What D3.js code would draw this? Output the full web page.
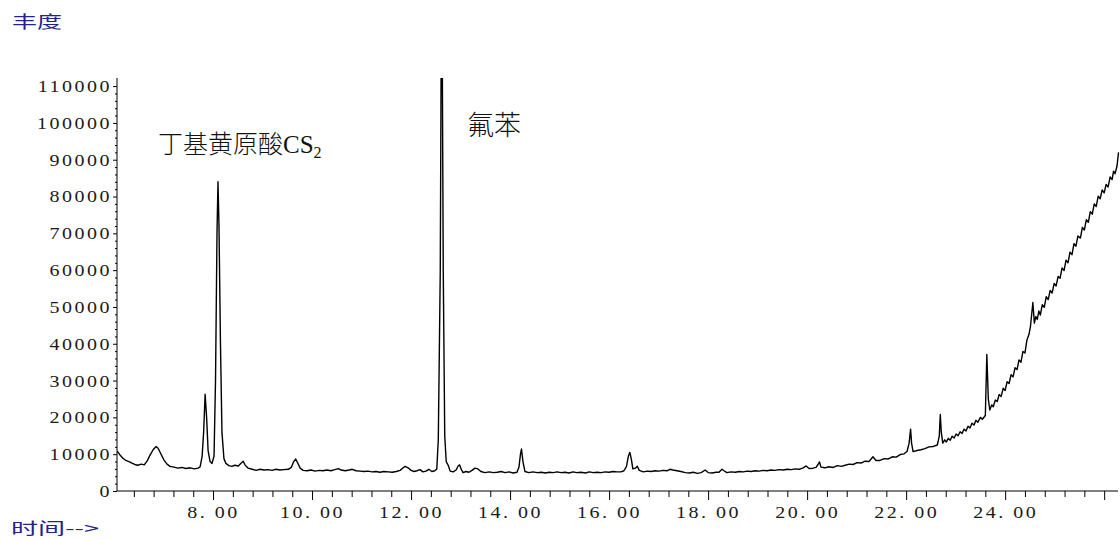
<!DOCTYPE html>
<html>
<head>
<meta charset="utf-8">
<script src="https://cdn.jsdelivr.net/npm/d3@7"></script>
<style>
  html, body { margin: 0; padding: 0; background: #fff; }
  svg { display: block; }
</style>
</head>
<body>
<svg id="chart" width="1120" height="540"></svg>
<script>
// retention time (min) and abundance
var time = [6.06, 6.12, 6.18, 6.24, 6.30, 6.36, 6.42, 6.48, 6.55, 6.61, 6.67, 6.73, 6.79, 6.85, 6.89, 6.95,
  7.01, 7.07, 7.13, 7.21, 7.29, 7.37, 7.45, 7.54, 7.62, 7.70, 7.74, 7.78, 7.81, 7.84, 7.87, 7.90, 7.94, 7.98,
  8.02, 8.05, 8.08, 8.10, 8.12, 8.15, 8.18, 8.22, 8.26, 8.32, 8.38, 8.44, 8.51, 8.57, 8.61, 8.65, 8.71, 8.79,
  8.87, 8.95, 9.03, 9.11, 9.19, 9.27, 9.35, 9.43, 9.52, 9.58, 9.63, 9.67, 9.71, 9.76, 9.82, 9.90, 9.98,
  10.06, 10.14, 10.22, 10.30, 10.38, 10.46, 10.53, 10.59, 10.67, 10.75, 10.81, 10.89, 10.97, 11.05, 11.13,
  11.21, 11.29, 11.37, 11.45, 11.54, 11.62, 11.70, 11.78, 11.84, 11.88, 11.94, 12.00, 12.06, 12.12, 12.18,
  12.24, 12.30, 12.36, 12.42, 12.48, 12.52, 12.55, 12.59, 12.61, 12.63, 12.65, 12.68, 12.71, 12.75, 12.79,
  12.85, 12.91, 12.95, 12.98, 13.01, 13.05, 13.11, 13.17, 13.23, 13.29, 13.35, 13.41, 13.49, 13.58, 13.66,
  13.74, 13.82, 13.90, 13.98, 14.06, 14.14, 14.18, 14.21, 14.23, 14.26, 14.30, 14.38, 14.46, 14.55, 14.63,
  14.71, 14.79, 14.87, 14.95, 15.03, 15.11, 15.19, 15.27, 15.35, 15.43, 15.52, 15.60, 15.68, 15.76, 15.84,
  15.92, 16.00, 16.08, 16.16, 16.24, 16.30, 16.35, 16.39, 16.42, 16.45, 16.48, 16.53, 16.57, 16.61, 16.69,
  16.77, 16.85, 16.93, 17.01, 17.09, 17.17, 17.23, 17.29, 17.37, 17.45, 17.54, 17.62, 17.70, 17.78, 17.86,
  17.94, 18.00, 18.08, 18.16, 18.22, 18.28, 18.32, 18.38, 18.46, 18.55, 18.63, 18.71, 18.79, 18.87, 18.95,
  19.03, 19.11, 19.19, 19.27, 19.35, 19.43, 19.52, 19.60, 19.68, 19.76, 19.84, 19.92, 19.98, 20.04, 20.12,
  20.18, 20.22, 20.25, 20.28, 20.36, 20.44, 20.53, 20.61, 20.69, 20.77, 20.85, 20.93, 21.01, 21.09, 21.17,
  21.25, 21.33, 21.39, 21.47, 21.56, 21.64, 21.72, 21.80, 21.88, 21.96, 22.02, 22.06, 22.09, 22.11, 22.14,
  22.22, 22.30, 22.38, 22.46, 22.55, 22.63, 22.67, 22.69, 22.71,
  22.74, 22.78, 22.81, 22.85, 22.89, 22.93, 22.97, 23.01, 23.05, 23.09,
  23.13, 23.17, 23.21, 23.25, 23.29, 23.33, 23.37, 23.41, 23.45, 23.50,
  23.54, 23.60, 23.63, 23.66, 23.69, 23.73, 23.76, 23.80, 23.84, 23.88,
  23.92, 23.96, 24.00, 24.04, 24.08, 24.12, 24.16, 24.20, 24.24, 24.28,
  24.32, 24.36, 24.40, 24.44, 24.48, 24.51, 24.56, 24.59, 24.62, 24.65,
  24.68, 24.71, 24.75, 24.79, 24.83, 24.87, 24.91, 24.95, 24.99, 25.03,
  25.07, 25.11, 25.15, 25.19, 25.23, 25.27, 25.31, 25.35, 25.39, 25.43,
  25.47, 25.52, 25.56, 25.60, 25.64, 25.68, 25.72, 25.76, 25.80, 25.84,
  25.88, 25.92, 25.96, 26.00, 26.04, 26.08, 26.12, 26.16, 26.19, 26.22,
  26.26, 26.29];

var abundance = [10900, 9800, 8900, 8300, 8000, 7600, 7200, 7000, 7300, 7100, 8200, 9800, 11200, 12100, 11600, 10000,
  8400, 7300, 6700, 6500, 6200, 6400, 6100, 6300, 6000, 6200, 6600, 9500, 16000, 26300, 20000, 11000, 8000, 7500,
  9500, 30000, 70000, 84000, 72000, 40000, 16000, 8800, 7500, 6900, 6700, 7000, 6800, 7600, 8100, 7000, 6200, 5900,
  5600, 5900, 5700, 5800, 5600, 5900, 5700, 5800, 5900, 6400, 8000, 8700, 7600, 6200, 5600, 5500, 5700,
  5400, 5600, 5500, 5700, 5500, 5800, 6100, 5700, 5500, 5700, 5900, 5500, 5400, 5300, 5400,
  5200, 5300, 5100, 5300, 5200, 5100, 5300, 5600, 6300, 6700, 6300, 5600, 5300, 5500, 5800,
  5200, 5400, 5900, 5300, 5500, 6000, 14000, 60000, 125000, 120000, 60000, 15000, 8000, 7000, 5400,
  5200, 5700, 6800, 7100, 6000, 5000, 5300, 5100, 5600, 6200, 6000, 5300, 5000, 5200, 5000,
  5100, 5300, 5000, 5200, 4900, 5100, 6500, 10000, 11400, 8000, 5300, 5000, 5200, 5000, 5100,
  4900, 5100, 5000, 5200, 5000, 5100, 4900, 5200, 5000, 5100, 4900, 5200, 5000, 5100, 5000,
  5200, 5100, 5300, 5200, 5200, 5500, 6600, 9500, 10500, 8600, 6000, 6200, 6700, 5600, 5200,
  5400, 5300, 5500, 5400, 5600, 5500, 5900, 5700, 5500, 5300, 5000, 4900, 5100, 4800, 5000,
  5700, 5000, 4900, 5100, 5100, 5900, 5500, 5000, 5200, 5100, 5300, 5200, 5400, 5300, 5500,
  5400, 5600, 5500, 5700, 5600, 5800, 5700, 5900, 5800, 6000, 5900, 6300, 6800, 6100, 6200,
  6400, 7200, 7900, 6500, 6300, 6600, 6400, 6900, 6700, 7000, 7300, 7200, 7700, 7600, 8100,
  8000, 9300, 8300, 8300, 8800, 8700, 9300, 9200, 9900, 10100, 10800, 13000, 16800, 13000, 10700,
  11000, 11200, 11500, 12000, 12100, 12500, 15000, 20800, 16000,
  13000, 13900, 13300, 14300, 13800, 14900, 14400, 15500, 15000, 16100,
  15600, 16800, 16300, 17600, 17100, 18400, 17900, 19200, 18700, 20000,
  19500, 20500, 37100, 25000, 22000, 23400, 22900, 24700, 24300, 26200,
  25700, 27900, 27300, 29700, 29200, 31600, 31000, 33500, 33000, 35600,
  35000, 37900, 37500, 41000, 42500, 44500, 51200, 45600, 47400, 46600,
  48900, 47800, 50600, 49900, 52800, 52000, 54500, 53800, 56400, 55700,
  58300, 57800, 60600, 59900, 62700, 62000, 64900, 64200, 67200, 66500,
  69300, 68700, 71600, 70900, 73700, 73000, 75900, 75200, 78000, 77300,
  80100, 79400, 81800, 81000, 83300, 82600, 85300, 84600, 86900, 86200,
  88300, 92000];

var xTicksMajor = [8, 10, 12, 14, 16, 18, 20, 22, 24, 26];
var xTickLabels = ["8. 00", "10. 00", "12. 00", "14. 00", "16. 00", "18. 00", "20. 00", "22. 00", "24. 00", ""];
var yTicksMajor = [0, 10000, 20000, 30000, 40000, 50000, 60000, 70000, 80000, 90000, 100000, 110000];

var svg = d3.select("#chart");

var x = d3.scaleLinear().domain([6.06, 26.32]).range([117, 1120]);
var y = d3.scaleLinear().domain([0, 112200]).range([491, 78]);

var xMinor = d3.range(6.4, 26.3, 0.4).filter(function(t) {
  return xTicksMajor.every(function(m) { return Math.abs(m - t) > 0.01; });
});
var yMinor = d3.range(2000, 112000, 2000).filter(function(v) { return v % 10000 !== 0; });

// axes
var xAxis = svg.append("g").attr("transform", "translate(0,491)");
xAxis.call(d3.axisBottom(x).tickValues(xTicksMajor).tickSize(9)
  .tickFormat(function(d, i) { return xTickLabels[i]; }));
xAxis.append("g").call(d3.axisBottom(x).tickValues(xMinor).tickSize(6).tickFormat(""))
  .select(".domain").remove();
xAxis.select(".domain").attr("d", "M117,0H1118");

var yAxis = svg.append("g").attr("transform", "translate(117,0)");
yAxis.call(d3.axisLeft(y).tickValues(yTicksMajor).tickSize(4).tickFormat(d3.format("d")));
yAxis.append("g").call(d3.axisLeft(y).tickValues(yMinor).tickSize(2).tickFormat(""))
  .select(".domain").remove();
yAxis.select(".domain").attr("d", "M0,78V491");

svg.selectAll(".tick text")
  .style("font-family", "'Liberation Serif', serif")
  .style("font-size", "16px")
  .style("letter-spacing", "2px")
  .attr("fill", "#1a1a1a")
  .attr("transform", "scale(1.25,1)");
xAxis.selectAll(".tick text").attr("dy", "0.95em");
yAxis.selectAll(".tick text").attr("x", -4).attr("dy", "0.34em");
svg.selectAll(".domain, .tick line").attr("stroke", "#000");

// trace
svg.append("clipPath").attr("id", "plotclip")
  .append("rect").attr("x", 117).attr("y", 78).attr("width", 1003).attr("height", 414);

var line = d3.line()
  .x(function(d, i) { return x(time[i]); })
  .y(function(d) { return y(d); });

svg.append("path")
  .datum(abundance)
  .attr("clip-path", "url(#plotclip)")
  .attr("fill", "none")
  .attr("stroke", "#000")
  .attr("stroke-width", 1.4)
  .attr("stroke-linejoin", "round")
  .attr("d", line);

// labels
svg.append("text").attr("x", 12).attr("y", 28)
  .attr("textLength", 50).attr("lengthAdjust", "spacingAndGlyphs")
  .style("font-family", "'Noto Sans CJK SC'").style("font-size", "17px")
  .attr("fill", "#232390").text("丰度");
svg.append("text").attr("x", 11).attr("y", 534)
  .attr("textLength", 88).attr("lengthAdjust", "spacingAndGlyphs")
  .style("font-family", "'Noto Sans CJK SC'").style("font-size", "16px")
  .attr("fill", "#232390").text("时间-->");

var ann = svg.append("text").attr("x", 158).attr("y", 153)
  .style("font-size", "25px").attr("fill", "#111");
ann.append("tspan").style("font-family", "'Noto Sans CJK SC'").style("font-weight", 300).text("丁基黄原酸");
ann.append("tspan").style("font-family", "'Liberation Serif', serif").text("CS");
ann.append("tspan").style("font-family", "'Liberation Serif', serif").style("font-size", "16px")
  .attr("dy", 5).text("2");

svg.append("text").attr("x", 467).attr("y", 135)
  .style("font-family", "'Noto Sans CJK SC'").style("font-weight", 300)
  .style("font-size", "27px").attr("fill", "#111").text("氟苯");
</script>
</body>
</html>
